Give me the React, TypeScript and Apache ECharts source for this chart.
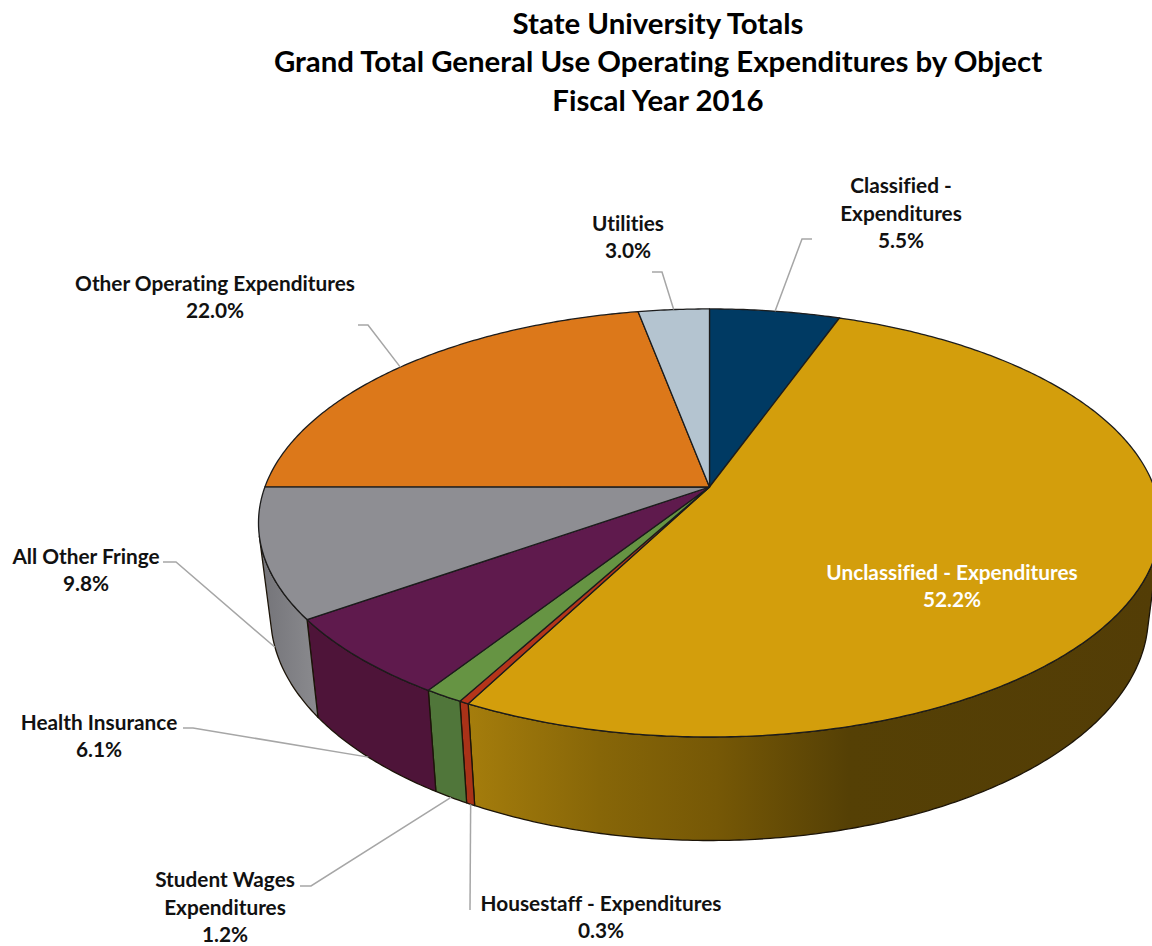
import React, { useEffect, useRef } from "react";
import * as echarts from "echarts";

const titleLines = [
  "State University Totals",
  "Grand Total General Use Operating Expenditures by Object",
  "Fiscal Year 2016",
];
const categories = [
  "Classified -\nExpenditures",
  "Unclassified - Expenditures",
  "Housestaff - Expenditures",
  "Student Wages\nExpenditures",
  "Health Insurance",
  "All Other Fringe",
  "Other Operating Expenditures",
  "Utilities",
];
const percents = [5.5, 52.2, 0.3, 1.2, 6.1, 9.8, 22.0, 3.0];

const topColors = ["#003a63", "#d39e0c", "#b5351a", "#669443", "#5f1a4d", "#8e8e93", "#dc781a", "#b4c4d0"];
const sideColors = ["#002a48", "#8a6a08", "#a93218", "#50763a", "#4e1439", "#7d7d82", "#a85a12", "#8a98a2"];

// Projection of the tilted disc
const CX = 709.5, CY = 487, RX = 444.6, RY = 208, K = 0.168;
const BASE_SX = 0.973, BASE_Y0 = 578, BASE_SY = 1.05;

// Label placement: text centre, leader start + elbow, which rim the leader ends on
const labelLayout = [
  { x: 901, y: 212, leader: [[812, 239], [802, 239]], rim: "top" },
  { x: 952, y: 585, leader: null, rim: "top", color: "#ffffff" },
  { x: 601, y: 916, leader: [[470, 910]], rim: "base" },
  { x: 225, y: 906, leader: [[300, 886], [311, 886]], rim: "base" },
  { x: 99, y: 735, leader: [[183, 728], [193, 728]], rim: "base" },
  { x: 86, y: 569, leader: [[163, 562], [176, 562]], rim: "base" },
  { x: 215, y: 296, leader: [[358, 325], [368, 325]], rim: "top" },
  { x: 628, y: 236, leader: [[652, 272], [662, 272]], rim: "top" },
];

const FONT = "Lato";
const total = percents.reduce((a, b) => a + b, 0);
const starts: number[] = [];
percents.reduce((acc, v, i) => {
  starts[i] = acc;
  return acc + v;
}, 0);
const angleOf = (cum: number) => (cum / total) * 2 * Math.PI;

function topPoint(t: number): number[] {
  const X = Math.sin(t);
  const Y = -Math.cos(t);
  const w = 1 - K * Y;
  return [CX + (RX * X) / w, CY + (RY * Y) / w];
}
function basePoint(t: number): number[] {
  const p = topPoint(t);
  return [CX + BASE_SX * (p[0] - CX), BASE_Y0 + BASE_SY * (p[1] - CY)];
}
function arc(fn: (t: number) => number[], a: number, b: number): number[][] {
  const n = Math.max(2, Math.ceil(Math.abs(b - a) / 0.01));
  const pts: number[][] = [];
  for (let i = 0; i <= n; i++) pts.push(fn(a + ((b - a) * i) / n));
  return pts;
}
function silhouette(lo: number, hi: number, sign: number): number {
  let bestX = Infinity, tx = lo;
  for (let t = lo; t <= hi; t += 0.002) {
    const x = sign * topPoint(t)[0];
    if (x < bestX) { bestX = x; tx = t; }
  }
  const a = topPoint(tx), b = basePoint(tx);
  const vx = b[0] - a[0], vy = b[1] - a[1];
  let best = Infinity, res = tx;
  for (let t = lo; t <= hi; t += 0.002) {
    const p = topPoint(t);
    const n = sign * (p[0] * vy - p[1] * vx);
    if (n < best) { best = n; res = t; }
  }
  return res;
}
const thetaR = silhouette(0.2, Math.PI, -1);
const thetaL = silhouette(Math.PI, 2 * Math.PI - 0.2, 1);

const sideFill = (i: number): any => {
  if (i === 1)
    return new echarts.graphic.LinearGradient(468, 0, 1160, 0, [
      { offset: 0, color: "#a57d0c" },
      { offset: 0.19, color: "#876608" },
      { offset: 0.36, color: "#765806" },
      { offset: 0.55, color: "#554005" },
      { offset: 1, color: "#533d06" },
    ], true);
  if (i === 5)
    return new echarts.graphic.LinearGradient(262, 0, 316, 0, [
      { offset: 0, color: "#747479" },
      { offset: 1, color: "#8a8a8e" },
    ], true);
  return sideColors[i];
};

function renderSide(params: any) {
  const i = params.dataIndex;
  const a = Math.max(angleOf(starts[i]), thetaR);
  const b = Math.min(angleOf(starts[i] + percents[i]), thetaL);
  if (b <= a) return { type: "group", children: [] };
  const points = arc(topPoint, a, b).concat(arc(basePoint, b, a));
  return {
    type: "polygon",
    shape: { points },
    style: { fill: sideFill(i), stroke: "#1c1408", lineWidth: 1.3, lineJoin: "round" },
  };
}
function renderTop(params: any) {
  const i = params.dataIndex;
  const points = [[CX, CY]].concat(arc(topPoint, angleOf(starts[i]), angleOf(starts[i] + percents[i])));
  return {
    type: "polygon",
    shape: { points },
    style: { fill: topColors[i], stroke: "#1c1c1c", lineWidth: 1.3, lineJoin: "round" },
  };
}

export default function App() {
  const ref = useRef<HTMLDivElement>(null);
  useEffect(() => {
    document.body.style.margin = "0";
    document.body.style.overflow = "hidden";
    const sheet = document.createElement("style");
    sheet.textContent = "svg text { font-variant-ligatures: none !important; }";
    document.head.appendChild(sheet);
    const chart = echarts.init(ref.current!, undefined, { renderer: "svg" });
    const data = percents.map((v, i) => [i, v]);
    const elements: any[] = [];
    labelLayout.forEach((l, i) => {
      if (l.leader) {
        const mid = angleOf(starts[i] + percents[i] / 2);
        const end = l.rim === "top" ? topPoint(mid) : basePoint(mid);
        elements.push({
          type: "polyline",
          z: 10,
          shape: { points: [...l.leader, end] },
          style: { fill: "none", stroke: "#a6a6a6", lineWidth: 1.5 },
        });
      }
      elements.push({
        type: "text",
        z: 11,
        x: l.x,
        y: l.y,
        style: {
          text: `${categories[i]}\n${percents[i].toFixed(1)}%`,
          fill: l.color || "#111111",
          font: `bold 20.8px ${FONT}`,
          lineHeight: 27.5,
          align: "center",
          verticalAlign: "middle",
        },
      });
    });
    chart.setOption({
      animation: false,
      backgroundColor: "#ffffff",
      title: {
        text: titleLines.join("\n"),
        left: 653,
        top: -2,
        textAlign: "center",
        textStyle: { fontFamily: FONT, fontWeight: "bold", fontSize: 29.4, lineHeight: 38.5, color: "#000000" },
      },
      series: [
        { type: "custom", coordinateSystem: "none", renderItem: renderSide, data, silent: true, z: 2 },
        { type: "custom", coordinateSystem: "none", renderItem: renderTop, data, silent: true, z: 3 },
      ],
      graphic: { elements },
    });
    return () => {
      chart.dispose();
      sheet.remove();
    };
  }, []);
  return <div ref={ref} style={{ width: 1152, height: 946 }} />;
}
